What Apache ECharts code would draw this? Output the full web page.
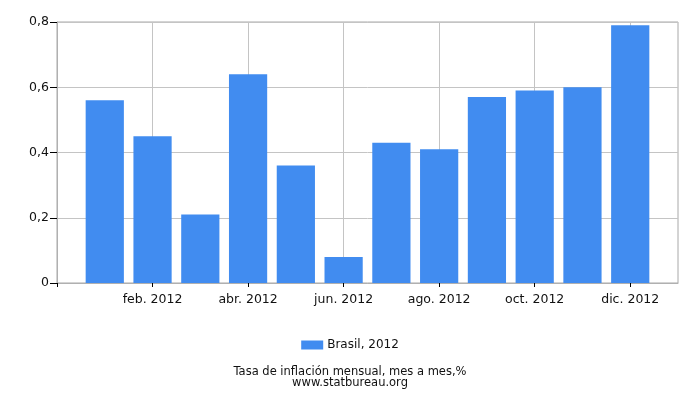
<!DOCTYPE html>
<html>
<head>
<meta charset="utf-8">
<script src="https://cdn.jsdelivr.net/npm/echarts@6/dist/echarts.min.js"></script>
<style>html,body{margin:0;padding:0;background:#fff;}#c{width:700px;height:400px;}</style>
</head>
<body>
<div id="c"></div>
<script>
var categories = ['', 'ene. 2012', 'feb. 2012', 'mar. 2012', 'abr. 2012', 'may. 2012', 'jun. 2012', 'jul. 2012', 'ago. 2012', 'sep. 2012', 'oct. 2012', 'nov. 2012', 'dic. 2012', ''];
var brasil2012 = [null, 0.56, 0.45, 0.21, 0.64, 0.36, 0.08, 0.43, 0.41, 0.57, 0.59, 0.60, 0.79, null];
var yTicks = [0, 0.2, 0.4, 0.6, 0.8];
var seriesName = 'Brasil, 2012';
var titleText = 'Tasa de inflación mensual, mes a mes,%';
var subText = 'www.statbureau.org';

var font = 'DejaVu Sans';
var evenIdx = function (i) { return i % 2 === 0; };
var chart = echarts.init(document.getElementById('c'), null, {renderer: 'canvas'});
chart.setOption({
  animation: false,
  backgroundColor: '#fff',
  textStyle: {fontFamily: font},
  grid: {left: 57, right: 22, top: 22, bottom: 117, show: true, borderColor: '#a8a8a8', borderWidth: 1, containLabel: false},
  title: {
    text: titleText, subtext: subText, left: 'center', top: 362,
    textStyle: {fontFamily: font, fontSize: 11.5, fontWeight: 'normal', color: '#111', lineHeight: 11},
    subtextStyle: {fontFamily: font, fontSize: 11.5, color: '#111', lineHeight: 11},
    itemGap: -1
  },
  legend: {
    data: [seriesName], top: 334, left: 'center', itemWidth: 22, itemHeight: 9, itemGap: 5,
    icon: 'rect',
    textStyle: {fontFamily: font, fontSize: 12, color: '#111', padding: [0, 0, 0, -1]}
  },
  xAxis: {
    type: 'category', data: categories, boundaryGap: false,
    axisLine: {lineStyle: {color: '#b0b0b0'}},
    axisTick: {show: true, interval: evenIdx, length: 4, lineStyle: {color: '#000'}},
    axisLabel: {interval: function (i) { return i % 2 === 0 && i > 0; }, color: '#111', fontFamily: font, fontSize: 12.5, margin: 10},
    splitLine: {show: true, interval: function (i) { return i % 2 === 0 && i > 0; }, lineStyle: {color: '#c4c4c4'}}
  },
  yAxis: {
    type: 'value', min: yTicks[0], max: yTicks[yTicks.length - 1], interval: 0.2,
    axisLine: {show: true, lineStyle: {color: '#b0b0b0'}},
    axisTick: {show: true, length: 7, lineStyle: {color: '#000'}},
    axisLabel: {color: '#111', fontFamily: font, fontSize: 12.5, margin: 8,
      formatter: function (v) { return String(+v.toFixed(1)).replace('.', ','); }},
    splitLine: {show: true, lineStyle: {color: '#c4c4c4'}}
  },
  series: [{
    name: seriesName, type: 'bar', data: brasil2012, barWidth: '80%',
    itemStyle: {color: '#418cf0'}
  }]
});
</script>
</body>
</html>
